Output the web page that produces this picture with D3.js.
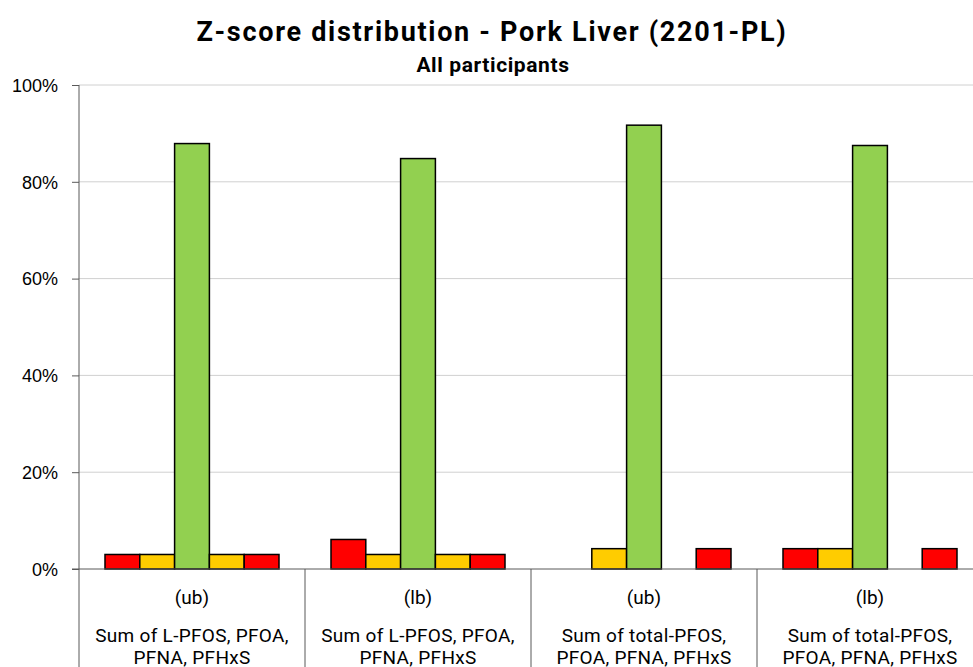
<!DOCTYPE html>
<html>
<head>
<meta charset="utf-8">
<script src="https://cdn.jsdelivr.net/npm/d3@7"></script>
<style>
  html, body { margin: 0; padding: 0; background: #fff; overflow: hidden; }
  svg { display: block; font-family: Roboto, "DejaVu Sans", sans-serif; }
</style>
</head>
<body>
<div id="chart"></div>
<script>
const WIDTH = 973;
const HEIGHT = 667;
const MARGIN = { top: 85, left: 79, bottom: 98 };
const PLOT_RIGHT = 983; // the chart runs slightly past the window edge

const groups = ["g1", "g2", "g3", "g4"];
const boundLabels = ["(ub)", "(lb)", "(ub)", "(lb)"];
const sumLabels = [
    ["Sum of L-PFOS, PFOA,", "PFNA, PFHxS"],
    ["Sum of L-PFOS, PFOA,", "PFNA, PFHxS"],
    ["Sum of total-PFOS,", "PFOA, PFNA, PFHxS"],
    ["Sum of total-PFOS,", "PFOA, PFNA, PFHxS"],
];

const classes = ["z<-3", "-3<z<-2", "|z|<2", "2<z<3", "z>3"];
const classColors = ["#ff0000", "#ffcc00", "#92d050", "#ffcc00", "#ff0000"];

// percentage of participants in each z-score class, per group
const pctG1 = [3.0, 3.0, 87.9, 3.0, 3.0];
const pctG2 = [6.1, 3.0, 84.8, 3.0, 3.0];
const pctG3 = [0, 4.2, 91.7, 0, 4.2];
const pctG4 = [4.2, 4.2, 87.5, 0, 4.2];
const values = [pctG1, pctG2, pctG3, pctG4];

const yTicks = [0, 20, 40, 60, 80, 100];

const svg = d3
    .select("#chart")
    .append("svg")
    .attr("width", WIDTH)
    .attr("height", HEIGHT);

const x0 = d3.scaleBand().domain(groups).range([MARGIN.left, PLOT_RIGHT]).paddingInner(0).paddingOuter(0);
const x1 = d3.scaleBand().domain(classes).range([0, x0.bandwidth()]).paddingInner(0).paddingOuter(0.747);
const y = d3.scaleLinear().domain([0, 100]).range([569, MARGIN.top]);

// gridlines
svg.append("g")
    .selectAll("line.grid")
    .data(yTicks.filter((d) => d > 0))
    .join("line")
    .attr("class", "grid")
    .attr("x1", MARGIN.left)
    .attr("x2", PLOT_RIGHT)
    .attr("y1", (d) => y(d))
    .attr("y2", (d) => y(d))
    .attr("stroke", "#d0d0d0")
    .attr("stroke-width", 1);

// y axis
const yAxis = svg
    .append("g")
    .attr("transform", `translate(${MARGIN.left},0)`)
    .call(d3.axisLeft(y).tickValues(yTicks).tickSize(7).tickPadding(14).tickFormat((d) => d + "%"));
yAxis.select(".domain").remove();
yAxis.selectAll(".tick line").attr("stroke", "#595959");
yAxis.selectAll(".tick text")
    .attr("fill", "#000")
    .style("font-size", "18px")
    .attr("dy", "0.35em");
svg.append("line")
    .attr("x1", MARGIN.left)
    .attr("x2", MARGIN.left)
    .attr("y1", y(100))
    .attr("y2", HEIGHT)
    .attr("stroke", "#595959")
    .attr("stroke-width", 1);

// bars
const barData = [];
groups.forEach((g, gi) => {
    classes.forEach((c, ci) => {
        barData.push({ group: g, cls: c, value: values[gi][ci], color: classColors[ci] });
    });
});

svg.append("g")
    .selectAll("rect.bar")
    .data(barData.filter((d) => d.value > 0))
    .join("rect")
    .attr("class", "bar")
    .attr("x", (d) => x0(d.group) + x1(d.cls))
    .attr("y", (d) => y(d.value))
    .attr("width", x1.bandwidth())
    .attr("height", (d) => y(0) - y(d.value))
    .attr("fill", (d) => d.color)
    .attr("stroke", "#000")
    .attr("stroke-width", 1.5);

// zero line
svg.append("line")
    .attr("x1", MARGIN.left - 7)
    .attr("x2", PLOT_RIGHT)
    .attr("y1", y(0))
    .attr("y2", y(0))
    .attr("stroke", "#595959")
    .attr("stroke-width", 1);

// category separators below axis
svg.append("g")
    .selectAll("line.sep")
    .data(groups.slice(1))
    .join("line")
    .attr("class", "sep")
    .attr("x1", (d) => x0(d))
    .attr("x2", (d) => x0(d))
    .attr("y1", y(0))
    .attr("y2", HEIGHT)
    .attr("stroke", "#595959")
    .attr("stroke-width", 1);

// category labels
const catG = svg.append("g").selectAll("g.cat").data(groups).join("g").attr("class", "cat");
catG.append("text")
    .attr("x", (d) => x0(d) + x0.bandwidth() / 2)
    .attr("y", 604)
    .attr("text-anchor", "middle")
    .style("font-size", "19px")
    .text((d, i) => boundLabels[i]);
catG.each(function (d, i) {
    d3.select(this)
        .selectAll("text.sum")
        .data(sumLabels[i])
        .join("text")
        .attr("class", "sum")
        .attr("x", x0(d) + x0.bandwidth() / 2)
        .attr("y", (t, li) => 642 + li * 22)
        .attr("text-anchor", "middle")
        .style("font-size", "19px")
        .style("letter-spacing", "0.3px")
        .text((t) => t);
});

// titles
svg.append("text")
    .attr("x", 492)
    .attr("y", 41)
    .attr("text-anchor", "middle")
    .style("font-size", "27px")
    .style("font-weight", "bold")
    .style("letter-spacing", "1.7px")
    .text("Z-score distribution - Pork Liver (2201-PL)");
svg.append("text")
    .attr("x", 493)
    .attr("y", 72)
    .attr("text-anchor", "middle")
    .style("font-size", "21px")
    .style("font-weight", "bold")
    .style("letter-spacing", "0.6px")
    .text("All participants");
</script>
</body>
</html>
